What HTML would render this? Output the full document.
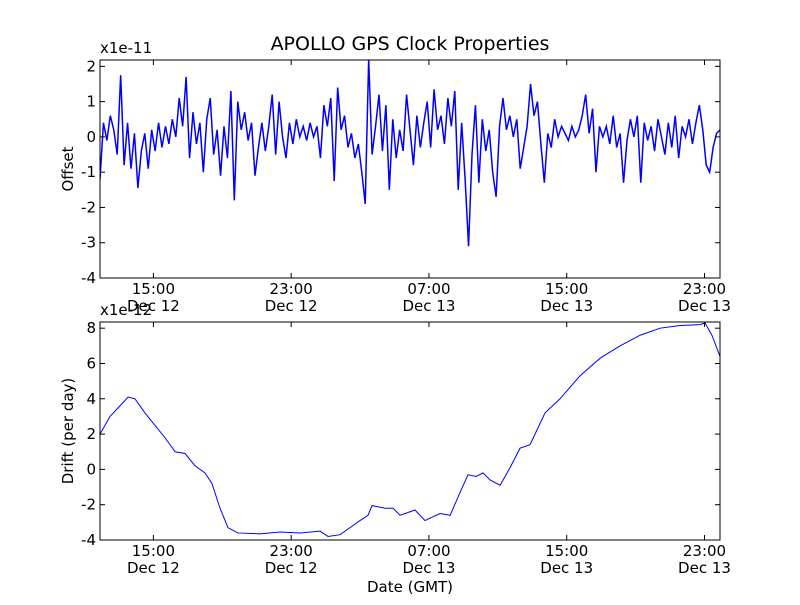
<!DOCTYPE html>
<html><head><meta charset="utf-8"><style>
body{margin:0;background:#fff}
svg text{font-family:"DejaVu Sans","Liberation Sans",sans-serif;fill:#000}
</style></head><body>
<svg id="c" width="800" height="600" xmlns="http://www.w3.org/2000/svg">
<rect width="800" height="600" fill="#fff"/>
<text x="410" y="50" font-size="19" text-anchor="middle">APOLLO GPS Clock Properties</text>
<g id="top"></g>
<g id="bot"></g>
<text x="410" y="592" font-size="15" text-anchor="middle">Date (GMT)</text>
</svg>
<script>
const xTickHours=[15,23,31,39,47];
const xTickTimes=["15:00","23:00","07:00","15:00","23:00"];
const xTickDays=["Dec 12","Dec 12","Dec 13","Dec 13","Dec 13"];
const offsetStart=11.9, offsetStep=0.2;
const offsetValues=[-1.2,0.4,-0.1,0.6,0.2,-0.5,1.75,-0.8,0.4,-0.9,0.1,-1.45,-0.4,0.1,-0.9,0.2,-0.4,0.4,-0.3,0.3,-0.2,0.5,0.0,1.1,0.3,1.7,-0.6,0.7,-0.2,0.4,-1.0,0.5,1.1,-0.5,0.2,-1.1,0.3,-0.6,1.3,-1.8,1.0,0.2,0.7,-0.1,0.4,-1.1,-0.3,0.4,-0.4,0.3,1.2,-0.5,1.0,0.0,-0.6,0.4,-0.2,0.5,0.0,0.3,-0.1,0.4,0.0,0.3,-0.6,0.9,0.3,1.1,-1.25,1.4,0.2,0.6,-0.3,0.1,-0.6,-0.2,-1.0,-1.9,2.2,-0.5,0.3,1.2,-0.4,0.9,-1.5,0.5,-0.6,0.2,-0.4,1.2,0.2,-0.8,0.6,-0.3,0.4,1.0,-0.3,1.35,0.2,0.6,-0.2,1.1,0.3,1.3,-1.5,0.4,-1.2,-3.1,-0.5,0.9,-1.3,0.5,-0.4,0.2,-1.0,-1.7,0.3,1.1,0.2,0.6,0.0,0.5,-0.9,-0.3,0.3,1.5,0.6,1.0,-0.2,-1.3,0.1,-0.3,0.5,0.0,0.3,0.1,-0.1,0.3,0.0,0.2,0.6,1.2,0.1,0.8,-1.0,0.3,0.0,0.3,-0.2,0.6,-0.3,0.1,-1.3,-0.1,0.5,0.0,0.6,-1.3,0.4,-0.1,0.3,-0.4,0.5,0.0,-0.5,0.4,-0.3,0.6,-0.6,0.3,0.0,0.5,-0.2,0.4,0.9,0.2,-0.8,-1.0,-0.3,0.1,0.2];
const driftHours=[11.9,12.48,13.06,13.53,13.93,14.51,15.09,15.67,16.26,16.84,17.42,18.0,18.4,18.87,19.33,19.91,21.19,22.35,23.51,24.68,25.14,25.84,26.42,27.0,27.46,27.7,28.45,28.92,29.32,30.19,30.77,31.64,32.23,32.81,33.27,33.74,34.14,34.55,35.13,35.71,36.29,36.87,37.74,38.61,39.77,40.94,42.1,43.26,44.42,45.58,46.74,47.03,47.43,47.9];
const driftValues=[2.0,3.0,3.6,4.1,4.0,3.2,2.5,1.8,1.0,0.9,0.2,-0.2,-0.8,-2.2,-3.3,-3.6,-3.65,-3.55,-3.6,-3.5,-3.8,-3.7,-3.3,-2.9,-2.6,-2.05,-2.2,-2.2,-2.6,-2.3,-2.9,-2.5,-2.6,-1.3,-0.3,-0.4,-0.2,-0.6,-0.9,0.1,1.2,1.4,3.2,4.0,5.3,6.3,7.0,7.6,8.0,8.15,8.2,8.3,7.6,6.4];
const offsetTicks=[-4,-3,-2,-1,0,1,2];
const driftTicks=[-4,-2,0,2,4,6,8];

const NS="http://www.w3.org/2000/svg";
const L=100,R=720,X0=11.9,X1=47.9;
const sx=h=>L+(h-X0)/(X1-X0)*(R-L);
function el(p,t,a){const e=document.createElementNS(NS,t);for(const k in a)e.setAttribute(k,a[k]);p.appendChild(e);return e;}
function panel(g,top,bot,y0,y1,ticks,yLabel,exp,xs,ys,lw,nm){
  const sy=v=>bot-(v-y0)/(y1-y0)*(bot-top);
  let d="";xs.forEach((x,i)=>{d+=(i?"L":"M")+sx(x).toFixed(2)+","+sy(ys[i]).toFixed(2);});
  const cp=el(g,"clipPath",{id:"cp"+nm});el(cp,"rect",{x:L,y:top,width:R-L,height:bot-top});
  const ln=el(g,"path",{d:d,fill:"none",stroke:"#0000ff","stroke-width":lw,"clip-path":"url(#cp"+nm+")"});
  
  
  const fr=el(g,"rect",{x:L,y:top,width:R-L,height:bot-top,fill:"none",stroke:"#000","stroke-width":1});
  
  
  ticks.forEach(v=>{const y=sy(v);
    el(g,"line",{x1:L,x2:L+5,y1:y,y2:y,stroke:"#000"});el(g,"line",{x1:R-5,x2:R,y1:y,y2:y,stroke:"#000"});
    const t=el(g,"text",{x:L-4,y:y+5,"font-size":15,"text-anchor":"end"});t.textContent=v;
    
    });
  xTickHours.forEach((h,i)=>{const x=sx(h);
    el(g,"line",{x1:x,x2:x,y1:bot,y2:bot-5,stroke:"#000"});el(g,"line",{x1:x,x2:x,y1:top,y2:top+5,stroke:"#000"});
    const t=el(g,"text",{x:x,y:bot+16,"font-size":15,"text-anchor":"middle"});t.textContent=xTickTimes[i];
    
    
    const t2=el(g,"text",{x:x,y:bot+33,"font-size":15,"text-anchor":"middle"});t2.textContent=xTickDays[i];
    
    });
  const ex=el(g,"text",{x:L,y:top-7,"font-size":15});ex.textContent=exp;
  
  
  const yl=el(g,"text",{x:73,y:(top+bot)/2,"font-size":15,"text-anchor":"middle",transform:"rotate(-90 73 "+(top+bot)/2+")"});yl.textContent=yLabel;
  
  
}
const oh=offsetValues.map((v,i)=>offsetStart+i*offsetStep);
panel(document.getElementById("top"),60,278,-4,2.18,offsetTicks,"Offset","x1e-11",oh,offsetValues,1.5,"offset");
panel(document.getElementById("bot"),322,540,-4,8.35,driftTicks,"Drift (per day)","x1e-12",driftHours,driftValues,1,"drift");
</script>
</body></html>
